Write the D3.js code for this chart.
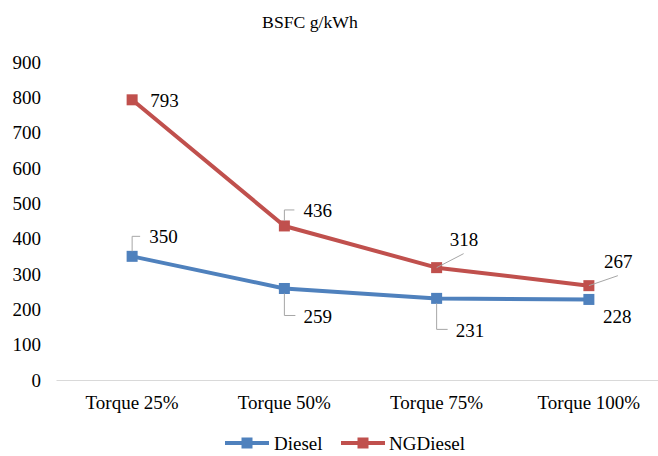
<!DOCTYPE html>
<html>
<head>
<meta charset="utf-8">
<script src="https://cdn.jsdelivr.net/npm/d3@7"></script>
<style>
  html, body { margin: 0; padding: 0; background: #fff; }
  svg text { font-family: "Times New Roman", "Liberation Serif", Times, "DejaVu Serif", serif !important; }
</style>
</head>
<body>
<svg id="chart" width="658" height="456"></svg>
<script>
// Brake specific fuel consumption by load point
const categories = ["Torque 25%", "Torque 50%", "Torque 75%", "Torque 100%"];
const dieselValues = [350, 259, 231, 228];
const ngDieselValues = [793, 436, 318, 267];
const yTicks = [0, 100, 200, 300, 400, 500, 600, 700, 800, 900];
const seriesNames = ["Diesel", "NGDiesel"];
const seriesColors = ["#4f81bd", "#c0504d"];

// Label placement: offset of label start from the point, and leader-line kind
const dieselLabelLayout = [
  { dx: 17, dy: -20, leader: "up" },
  { dx: 19, dy: 28, leader: "down" },
  { dx: 19, dy: 32, leader: "down" },
  { dx: 14, dy: 17, leader: null }
];
const ngDieselLabelLayout = [
  { dx: 18, dy: 1, leader: null },
  { dx: 19, dy: -16, leader: "up" },
  { dx: 13, dy: -28, leader: "diag" },
  { dx: 15, dy: -24, leader: "diag" }
];

const svg = d3.select("#chart");
const margin = { left: 56, right: 665, top: 62, bottom: 380 };

const x = d3.scaleBand().domain(categories).range([margin.left, margin.right]);
const y = d3.scaleLinear().domain([0, 900]).range([margin.bottom, margin.top]);
const cx = c => x(c) + x.bandwidth() / 2;

// Title
svg.append("text")
  .attr("x", 310).attr("y", 28)
  .attr("text-anchor", "middle")
  .attr("font-size", 17.7)
  .attr("fill", "#000")
  .text("BSFC g/kWh");

// Y axis (labels only)
const yAxis = d3.axisLeft(y).tickValues(yTicks).tickSize(0).tickPadding(0);
const gy = svg.append("g").attr("transform", "translate(41,0)").call(yAxis);
gy.select(".domain").remove();
gy.attr("font-size", null);
gy.selectAll("text").attr("font-size", 19).attr("fill", "#000");

// X axis baseline and category labels
const xAxis = d3.axisBottom(x).tickSize(0).tickPadding(16);
const gx = svg.append("g").attr("transform", `translate(0,${y(0)})`).call(xAxis);
gx.select(".domain").attr("stroke", "#d9d9d9").attr("stroke-width", 1.2);
gx.attr("font-size", null);
gx.selectAll("text").attr("font-size", 19).attr("fill", "#000");

const series = [
  { name: seriesNames[0], values: dieselValues, color: seriesColors[0], layout: dieselLabelLayout },
  { name: seriesNames[1], values: ngDieselValues, color: seriesColors[1], layout: ngDieselLabelLayout }
];

const line = d3.line().x(d => cx(d.c)).y(d => y(d.v));

series.forEach(s => {
  const pts = categories.map((c, i) => ({ c, v: s.values[i] }));
  svg.append("path")
    .datum(pts)
    .attr("fill", "none")
    .attr("stroke", s.color)
    .attr("stroke-width", 4)
    .attr("stroke-linejoin", "round")
    .attr("d", line);
  svg.append("g").selectAll("rect").data(pts).join("rect")
    .attr("x", d => cx(d.c) - 5.5)
    .attr("y", d => y(d.v) - 5.5)
    .attr("width", 11).attr("height", 11)
    .attr("fill", s.color);
});

// Data labels with leader lines
series.forEach(s => {
  categories.forEach((c, i) => {
    const v = s.values[i];
    const px = cx(c), py = y(v);
    const L = s.layout[i];
    const lx = px + L.dx, ly = py + L.dy;
    if (L.leader === "up") {
      svg.append("path")
        .attr("d", `M${px},${py - 5} V${ly} H${lx - 9}`)
        .attr("fill", "none").attr("stroke", "#a6a6a6").attr("stroke-width", 1);
    } else if (L.leader === "down") {
      svg.append("path")
        .attr("d", `M${px},${py + 5} V${ly - 1} H${lx - 8}`)
        .attr("fill", "none").attr("stroke", "#a6a6a6").attr("stroke-width", 1);
    } else if (L.leader === "diag") {
      svg.append("path")
        .attr("d", `M${px},${py} L${lx + 14},${ly + 14}`)
        .attr("fill", "none").attr("stroke", "#a6a6a6").attr("stroke-width", 1);
    }
    svg.append("text")
      .attr("x", lx).attr("y", ly)
      .attr("dy", "0.35em")
      .attr("font-size", 19)
      .attr("fill", "#000")
      .text(v);
  });
});

// Legend
const legendItems = [
  { name: seriesNames[0], color: seriesColors[0], x0: 225, x1: 269, tx: 274 },
  { name: seriesNames[1], color: seriesColors[1], x0: 341, x1: 385, tx: 389 }
];
const legendY = 443;
legendItems.forEach(it => {
  svg.append("line")
    .attr("x1", it.x0).attr("x2", it.x1)
    .attr("y1", legendY).attr("y2", legendY)
    .attr("stroke", it.color).attr("stroke-width", 4);
  svg.append("rect")
    .attr("x", (it.x0 + it.x1) / 2 - 5.5).attr("y", legendY - 5.5)
    .attr("width", 11).attr("height", 11)
    .attr("fill", it.color);
  svg.append("text")
    .attr("x", it.tx).attr("y", legendY)
    .attr("dy", "0.35em")
    .attr("font-size", 19)
    .attr("fill", "#000")
    .text(it.name);
});
</script>
</body>
</html>
